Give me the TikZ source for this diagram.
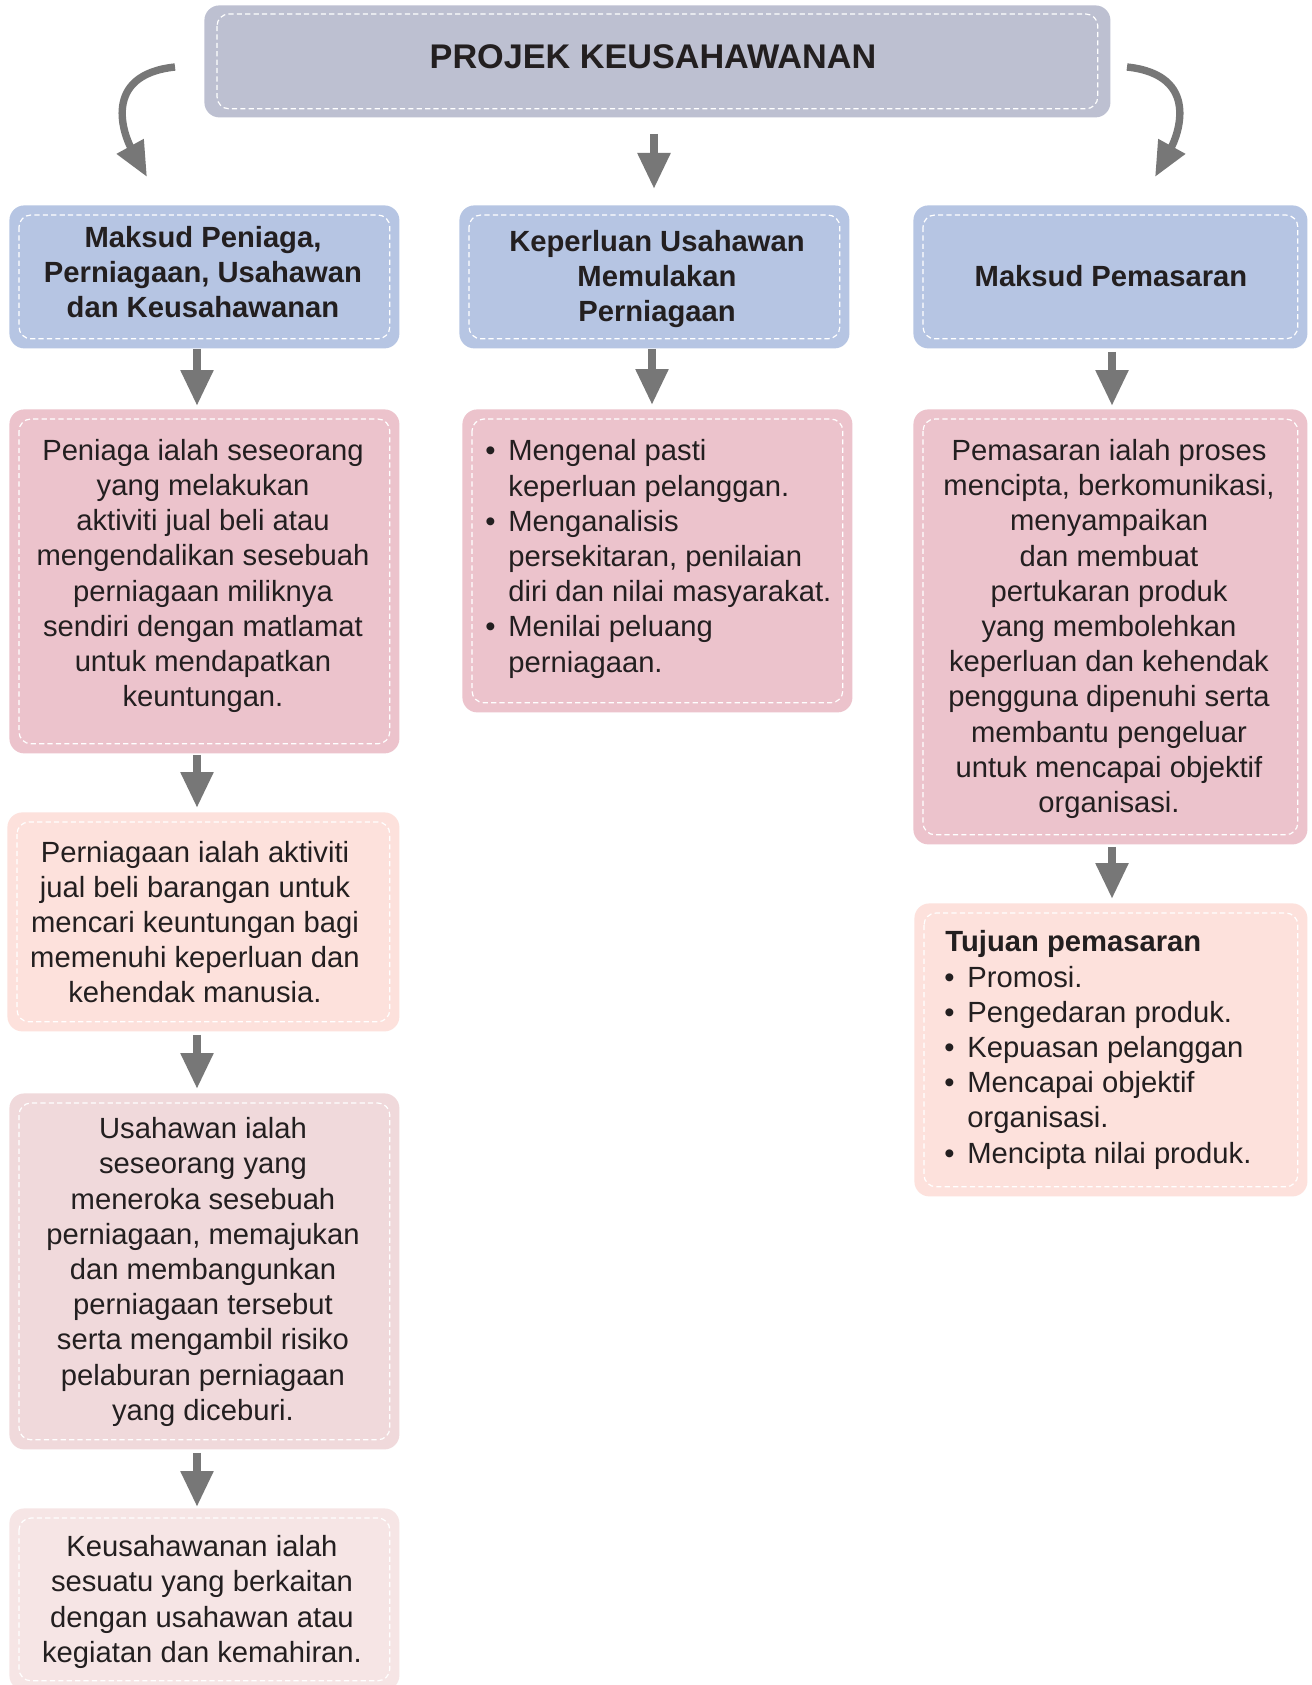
\documentclass[tikz,border=0pt]{standalone}
\usepackage{fontspec}
\setmainfont{Liberation Sans}
\usetikzlibrary{arrows.meta}
\definecolor{topc}{HTML}{BDC0D1}
\definecolor{bluec}{HTML}{B6C5E3}
\definecolor{pinkc}{HTML}{ECC3CC}
\definecolor{peachc}{HTML}{FDE1DC}
\definecolor{rosec}{HTML}{F0D9DB}
\definecolor{palec}{HTML}{F6E5E5}
\definecolor{arrc}{HTML}{777777}
\definecolor{txtc}{HTML}{231F20}
\newcommand{\bul}{\makebox[9pt][l]{\hspace*{-2.5pt}\textbullet}}
\newcommand{\ind}{\hspace*{9pt}}
\tikzset{
  box/.style={draw=none, fill=#1, rounded corners=7.5pt, anchor=north west, inner sep=0pt, minimum width=195pt},
  innerdash/.style={draw=white, dash pattern=on 2.6pt off 1.6pt, line width=0.6pt, rounded corners=6pt},
  txt/.style={font=\fontsize{14.6pt}{17.6pt}\selectfont, text=txtc, inner sep=0pt, align=center},
  ltxt/.style={font=\fontsize{14.6pt}{17.6pt}\selectfont, text=txtc, inner sep=0pt, align=left, anchor=west},
  arr/.style={draw=arrc, line width=4.2pt, -{Triangle[width=15.5pt,length=18pt]}},
  carr/.style={draw=arrc, line width=3.7pt, -{Triangle[width=14.5pt,length=17.5pt]}},
}
\begin{document}
\begin{tikzpicture}[x=0.5pt,y=-0.5pt]
\clip (0,0) rectangle (1311,1685);
\fill[white] (0,0) rectangle (1311,1685);
% boxes
\node[box=topc, minimum width=453pt, minimum height=56pt] (top) at (204,5) {};
\node[box=bluec, minimum height=71.5pt] (h1) at (9,205) {};
\node[box=bluec, minimum height=71.5pt] (h2) at (459,205) {};
\node[box=bluec, minimum width=197pt, minimum height=71.5pt] (h3) at (913,205) {};
\node[box=pinkc, minimum height=172pt] (l2) at (9,409) {};
\node[box=pinkc, minimum height=151.5pt] (m2) at (462,409) {};
\node[box=pinkc, minimum width=197pt, minimum height=217.5pt] (r2) at (913,409) {};
\node[box=peachc, minimum width=196pt, minimum height=109.5pt] (l3) at (7,812) {};
\node[box=peachc, minimum width=196.5pt, minimum height=146.5pt] (r3) at (914,903) {};
\node[box=rosec, minimum height=178pt] (l4) at (9,1093) {};
\node[box=palec, minimum height=91pt] (l5) at (9,1508) {};
% inner dashed borders
\draw[innerdash] ([shift={(13,9)}]top.north west) rectangle ([shift={(-13,-9)}]top.south east);
\foreach \b in {h1,h2,h3,l2,m2,r2,l3,r3,l4,l5}{
  \draw[innerdash] ([shift={(10,10)}]\b.north west) rectangle ([shift={(-10,-10)}]\b.south east);
}
% texts
\node[txt, font=\bfseries\fontsize{17.1pt}{20pt}\selectfont] (ttop) at (653,57) {PROJEK KEUSAHAWANAN};
\node[txt, font=\bfseries\fontsize{14.6pt}{17.6pt}\selectfont] (th1) at (203,272) {Maksud Peniaga,\\Perniagaan, Usahawan\\dan Keusahawanan};
\node[txt, font=\bfseries\fontsize{14.6pt}{17.6pt}\selectfont] (th2) at (657,279) {Keperluan Usahawan\\Memulakan\\Perniagaan};
\node[txt, font=\bfseries\fontsize{14.6pt}{17.6pt}\selectfont] (th3) at (1111,276) {Maksud Pemasaran};
\node[txt] (tl2) at (203,576) {Peniaga ialah seseorang\\yang melakukan\\aktiviti jual beli atau\\mengendalikan sesebuah\\perniagaan miliknya\\sendiri dengan matlamat\\untuk mendapatkan\\keuntungan.};
\node[ltxt] (tm2) at (490,559) {\bul Mengenal pasti\\\ind keperluan pelanggan.\\\bul Menganalisis\\\ind persekitaran, penilaian\\\ind diri dan nilai masyarakat.\\\bul Menilai peluang\\\ind perniagaan.};
\node[txt] (tr2) at (1109,629) {Pemasaran ialah proses\\mencipta, berkomunikasi,\\menyampaikan\\dan membuat\\pertukaran produk\\yang membolehkan\\keperluan dan kehendak\\pengguna dipenuhi serta\\membantu pengeluar\\untuk mencapai objektif\\organisasi.};
\node[txt] (tl3) at (195,922) {Perniagaan ialah aktiviti\\jual beli barangan untuk\\mencari keuntungan bagi\\memenuhi keperluan dan\\kehendak manusia.};
\node[ltxt] (tr3) at (945,1050) {\textbf{Tujuan pemasaran}\\\hspace*{2pt}\bul Promosi.\\\hspace*{2pt}\bul Pengedaran produk.\\\hspace*{2pt}\bul Kepuasan pelanggan\\\hspace*{2pt}\bul Mencapai objektif\\\hspace*{2pt}\ind organisasi.\\\hspace*{2pt}\bul Mencipta nilai produk.};
\node[txt] (tl4) at (203,1272) {Usahawan ialah\\seseorang yang\\meneroka sesebuah\\perniagaan, memajukan\\dan membangunkan\\perniagaan tersebut\\serta mengambil risiko\\pelaburan perniagaan\\yang diceburi.};
\node[txt] (tl5) at (202,1602) {Keusahawanan ialah\\sesuatu yang berkaitan\\dengan usahawan atau\\kegiatan dan kemahiran.};
% arrow columns
\coordinate (lx) at (197,0);
\coordinate (mx) at (652,0);
\coordinate (rx) at (1112,0);
\coordinate (cx) at (654,0);
\draw[arr, shorten <=8pt, shorten >=8pt] (top.south -| cx) -- (h2.north -| cx);
\draw[arr, shorten >=1.5pt] (h1.south -| lx) -- (l2.north -| lx);
\draw[arr, shorten <=0.5pt, shorten >=2pt] (l2.south -| lx) -- (l3.north -| lx);
\draw[arr, shorten <=1.5pt, shorten >=2pt] (l3.south -| lx) -- (l4.north -| lx);
\draw[arr, shorten <=1.5pt, shorten >=0.5pt] (l4.south -| lx) -- (l5.north -| lx);
\draw[arr, shorten >=2pt] (h2.south -| mx) -- (m2.north -| mx);
\draw[arr, shorten <=1.5pt, shorten >=1.5pt] (h3.south -| rx) -- (r2.north -| rx);
\draw[arr, shorten <=1pt, shorten >=2pt] (r2.south -| rx) -- (r3.north -| rx);
% curved arrows
\coordinate (c1s) at (175,67);
\coordinate (c1e) at (147,177);
\coordinate (c2s) at (1127,67);
\coordinate (c2e) at (1155,177);
\draw[carr] (c1s) .. controls (100,75) and (125,137) .. (c1e);
\draw[carr] (c2s) .. controls (1202,75) and (1177,137) .. (c2e);
\end{tikzpicture}
\end{document}
